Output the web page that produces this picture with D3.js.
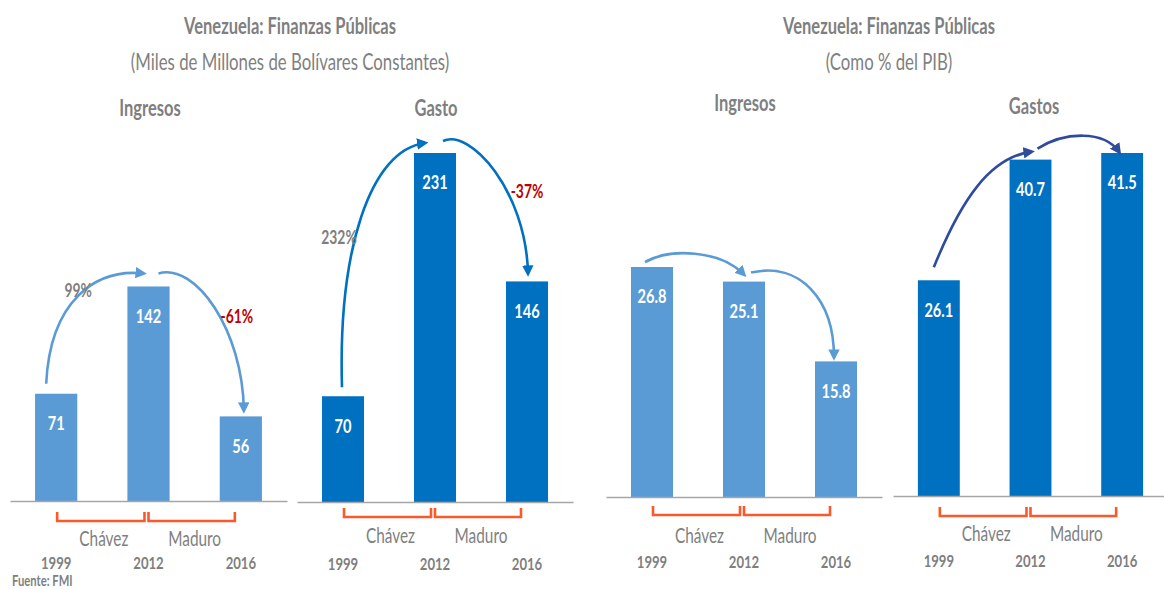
<!DOCTYPE html>
<html>
<head>
<meta charset="utf-8">
<script src="https://cdn.jsdelivr.net/npm/d3@7"></script>
<style>
body { margin: 0; background: #fff; }
text { font-family: Lato, "Open Sans", sans-serif; }
</style>
</head>
<body>
<svg id="chart" width="1164" height="589"></svg>
<script>
// datos
var years = ["1999", "2012", "2016"];
var ingresosBs = [71, 142, 56];
var gastoBs = [70, 231, 146];
var ingresosPib = [26.8, 25.1, 15.8];
var gastosPib = [26.1, 40.7, 41.5];
var cambiosIngresosBs = ["99%", "-61%"];
var cambiosGastoBs = ["232%", "-37%"];
var periodos = ["Chávez", "Maduro"];

var grey = "#7f7f7f";
var light = "#5b9bd5", dark = "#0070c0", navy = "#2f4b9b", red = "#c00000", orange = "#f95a2c";
var SX = 0.75; // texto estrecho, como en la imagen

// layout de cada panel
var panels = [
  { name: "Ingresos", values: ingresosBs, fmt: d3.format("d"), color: light, arrowColor: light,
    range: [10, 287], base: 501, max: 231, top: 152, hx: 150, hy: 108,
    br: [11, 20], per: 37, yr: 63,
    arrows: [
      { s: [0, -10, -10], e: [1, -5, -13], c0: [4, -83], c1: [-48, -5] },
      { s: [1, 10, -13], e: [2, 3, -6], c0: [37, -11], c1: [-1, -80] }
    ],
    labels: [
      { t: cambiosIngresosBs[0], xi: 0, dx: 22, yi: 1, dy: 3, c: grey },
      { t: cambiosIngresosBs[1], xi: 2, dx: -4, yi: 1, dy: 29, c: red }
    ] },
  { name: "Gasto", values: gastoBs, fmt: d3.format("d"), color: dark, arrowColor: dark,
    range: [297, 573], base: 502, max: 231, top: 153, hx: 436, hy: 108,
    br: [6, 15], per: 33, yr: 63,
    arrows: [
      { s: [0, -1, -9], e: [1, -10, -10], c0: [-4, -137], c1: [-55, 7] },
      { s: [1, 8, -12], e: [2, 1, -8], c0: [27, -13], c1: [-2, -83] }
    ],
    labels: [
      { t: cambiosGastoBs[0], xi: 0, dx: -4, yi: 1, dy: 84, c: grey },
      { t: cambiosGastoBs[1], xi: 2, dx: 0, yi: 1, dy: 38, c: red }
    ] },
  { name: "Ingresos", values: ingresosPib, fmt: d3.format(".1f"), color: light, arrowColor: light,
    range: [606, 882], base: 497, max: 26.8, top: 267, hx: 745, hy: 103,
    br: [9, 18], per: 38, yr: 66,
    arrows: [
      { s: [0, -7, -5], e: [1, 0, -7], c0: [25, -14], c1: [-24, -25] },
      { s: [1, 7, -9], e: [2, -2, -4], c0: [49, -11], c1: [0, -58] }
    ],
    labels: [] },
  { name: "Gastos", values: gastosPib, fmt: d3.format(".1f"), color: dark, arrowColor: navy,
    range: [893, 1168], base: 496, max: 41.5, top: 153, hx: 1034, hy: 106,
    br: [11, 20], per: 37, yr: 66,
    arrows: [
      { s: [0, -5, -13], e: [1, 1, -8], c0: [27, -67], c1: [-42, 6] },
      { s: [1, 7, -11], e: [2, -3, -1], c0: [27, -17], c1: [-15, -22] }
    ],
    labels: [] }
];

var svg = d3.select("#chart");
var defs = svg.append("defs");

var heads = [light, dark, navy];
heads.forEach(function(c, i) {
  defs.append("marker")
    .attr("id", "head" + i)
    .attr("viewBox", "0 0 10 10")
    .attr("refX", 7)
    .attr("refY", 5)
    .attr("markerWidth", 4.4)
    .attr("markerHeight", 4.4)
    .attr("orient", "auto")
    .append("path")
    .attr("d", "M0,0 L10,5 L0,10 z")
    .attr("fill", c);
});

function label(sel, x, y, str, size, weight, color, anchor) {
  return sel.append("text")
    .attr("transform", "translate(" + x + "," + y + ") scale(" + SX + ",1)")
    .attr("text-anchor", anchor || "middle")
    .attr("dominant-baseline", "central")
    .attr("font-size", size)
    .attr("font-weight", weight)
    .attr("fill", color)
    .text(str);
}

// titulos
[[290, "(Miles de Millones de Bolívares Constantes)"], [889, "(Como % del PIB)"]].forEach(function(t) {
  label(svg, t[0], 26, "Venezuela: Finanzas Públicas", 22, "bold", grey);
  label(svg, t[0], 61, t[1], 22.4, "normal", grey);
});

panels.forEach(function(p) {
  var g = svg.append("g");

  var x = d3.scaleBand().domain(years).range(p.range)
    .paddingInner(0.543).paddingOuter(0.2715);
  var y = d3.scaleLinear().domain([0, p.max]).range([p.base, p.top]);
  var cx = function(i) { return x(years[i]) + x.bandwidth() / 2; };
  var ty = function(i) { return y(p.values[i]); };

  label(g, p.hx, p.hy, p.name, 22, "bold", grey);

  g.selectAll("rect.bar")
    .data(p.values)
    .join("rect")
    .attr("class", "bar")
    .attr("x", function(d, i) { return x(years[i]); })
    .attr("width", x.bandwidth())
    .attr("y", function(d) { return y(d); })
    .attr("height", function(d) { return p.base - y(d); })
    .attr("fill", p.color);

  p.values.forEach(function(d, i) {
    label(g, cx(i), y(d) + 29, p.fmt(d), 19.5, "bold", "#fff");
  });

  // eje con los años
  var axis = g.append("g")
    .attr("transform", "translate(0," + p.base + ")")
    .call(d3.axisBottom(x).tickSize(0).tickSizeOuter(0).tickPadding(p.yr - 7));
  axis.attr("font-family", null);
  axis.select(".domain").attr("stroke", "#a6a6a6").attr("stroke-width", 1.5);
  axis.selectAll("text")
    .attr("transform", "scale(" + SX + ",1)")
    .attr("font-size", 17.5).attr("font-weight", "bold").attr("fill", grey);

  // llaves Chávez / Maduro
  var spans = [[cx(0) + 1, cx(1) - 4], [cx(1), cx(2) - 6]];
  spans.forEach(function(s, i) {
    var y0 = p.base + p.br[0], y1 = p.base + p.br[1];
    g.append("path")
      .attr("d", "M" + s[0] + "," + y0 + "V" + y1 + "H" + s[1] + "V" + y0)
      .attr("fill", "none").attr("stroke", orange).attr("stroke-width", 2.6);
    label(g, (s[0] + s[1]) / 2 + 3, p.base + p.per, periodos[i], 20.5, "normal", grey);
  });

  // flechas
  p.arrows.forEach(function(a) {
    var x0 = cx(a.s[0]) + a.s[1], y0 = ty(a.s[0]) + a.s[2];
    var x3 = cx(a.e[0]) + a.e[1], y3 = ty(a.e[0]) + a.e[2];
    var path = d3.path();
    path.moveTo(x0, y0);
    path.bezierCurveTo(x0 + a.c0[0], y0 + a.c0[1], x3 + a.c1[0], y3 + a.c1[1], x3, y3);
    g.append("path")
      .attr("d", path.toString())
      .attr("fill", "none")
      .attr("stroke", p.arrowColor)
      .attr("stroke-width", 2.6)
      .attr("marker-end", "url(#head" + heads.indexOf(p.arrowColor) + ")");
  });

  p.labels.forEach(function(l) {
    label(g, cx(l.xi) + l.dx, ty(l.yi) + l.dy, l.t, 18.5, "bold", l.c);
  });
});

label(svg, 12, 580, "Fuente: FMI", 15, "bold", grey, "start");
</script>
</body>
</html>
